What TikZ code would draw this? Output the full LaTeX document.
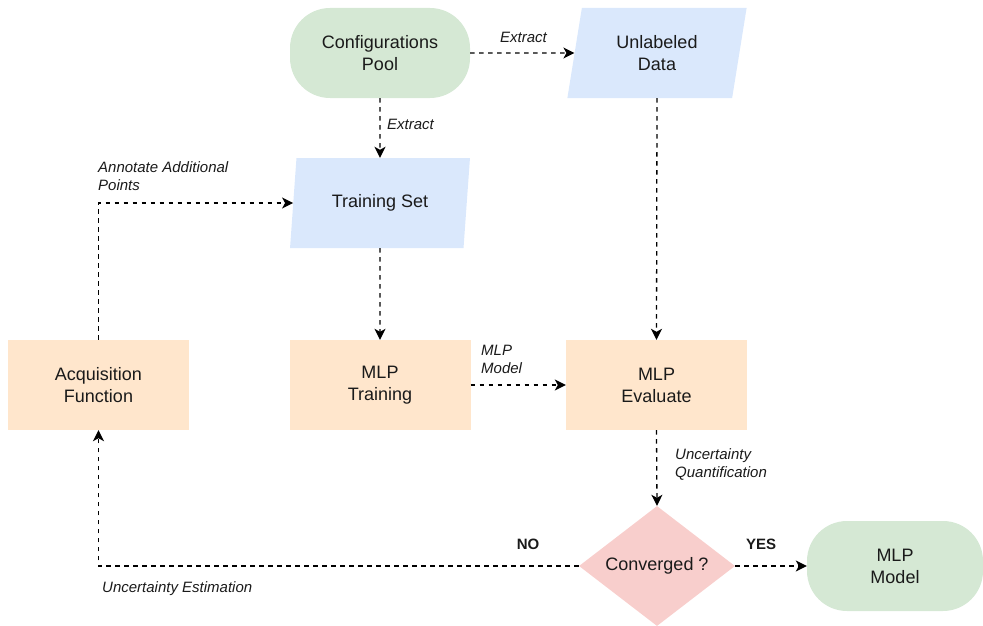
\documentclass[tikz,border=0pt]{standalone}
\usepackage{fontspec}
\setmainfont{Liberation Sans}
\usetikzlibrary{shapes.geometric,arrows.meta}
\definecolor{termfill}{HTML}{D5E8D4}
\definecolor{datafill}{HTML}{DAE8FC}
\definecolor{procfill}{HTML}{FFE6CC}
\definecolor{decfill}{HTML}{F8CECC}
\definecolor{ink}{HTML}{1A1A1A}
\tikzset{
  boxtext/.style={text=ink, align=center, font=\fontsize{18}{22}\selectfont, inner sep=0pt},
  terminal/.style={boxtext, fill=termfill, rectangle, rounded corners=40pt, minimum width=180pt, minimum height=90pt},
  dataio/.style={boxtext, fill=datafill, trapezium, trapezium left angle=77.5, trapezium right angle=102.5,
    trapezium stretches=true, minimum width=180pt, minimum height=90pt},
  process/.style={boxtext, fill=procfill, rectangle, minimum width=181pt, minimum height=90pt},
  decision/.style={boxtext, fill=decfill, diamond, minimum width=156pt, minimum height=120pt},
  flow/.style={draw=black, line width=1.3pt, dash pattern=on 4.5pt off 4.5pt, -{Stealth[length=11pt,width=11pt,inset=3pt]}},
  note/.style={text=ink, align=left, font=\fontsize{15}{18}\selectfont\itshape, inner sep=0pt, anchor=west},
  verdict/.style={text=ink, font=\fontsize{15}{18}\selectfont\bfseries, inner sep=0pt}
}
\begin{document}
\begin{tikzpicture}[x=1pt,y=-1pt]
\useasboundingbox (0,0) rectangle (983,626);

% shapes
\node[terminal] (pool) at (380,53) {Configurations\\Pool};
\node[dataio] (unl) at (657,53) {Unlabeled\\Data};
\node[dataio] (ts) at (380,203) {Training Set};
\node[process] (acq) at (98.5,385) {Acquisition\\Function};
\node[process] (train) at (380,385) {MLP\\Training};
\node[process] (eval) at (656.5,385) {MLP\\Evaluate};
\node[decision] (conv) at (657,566) {Converged ?};
\node[terminal, minimum width=176pt] (model) at (895,566) {MLP\\Model};

% connectors
\draw[flow] (pool.east) -- (unl.west);
\draw[flow] (pool.south) -- (ts.north);
\draw[flow] (unl.south) -- (eval.north);
\draw[flow] (ts.south) -- (train.north);
\draw[flow] (train.east) -- (eval.west);
\draw[flow] (eval.south) -- (conv.north);
\draw[flow] (conv.east) -- (model.west);
\draw[flow] (conv.west) -| (acq.south);
\draw[flow] (acq.north) |- (ts.west);

% connector labels
\node[note] (lx1) at (500,37) {Extract};
\node[note] (lx2) at (387,124) {Extract};
\node[note] (lann) at (98,176) {Annotate Additional\\Points};
\node[note] (lmod) at (481,359) {MLP\\Model};
\node[note] (lunq) at (675,464) {Uncertainty\\Quantification};
\node[note] (lest) at (102,589) {Uncertainty Estimation};
\node[verdict] (lno) at (528,544) {NO};
\node[verdict] (lyes) at (761,544) {YES};
\end{tikzpicture}
\end{document}
